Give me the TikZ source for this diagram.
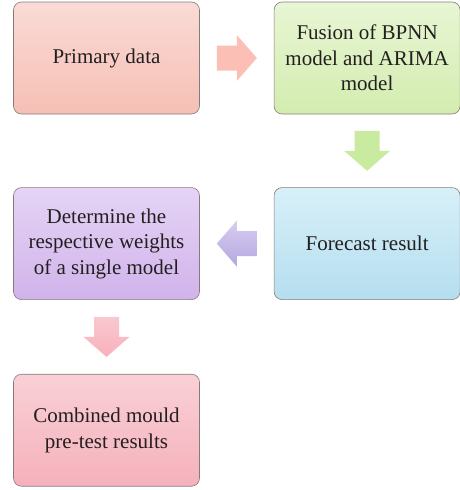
\documentclass[tikz,border=0pt]{standalone}
\usepackage{fontspec}
\setmainfont{Liberation Serif}
\usetikzlibrary{positioning,calc}
\definecolor{salmontop}{HTML}{FADBD5}
\definecolor{salmonbot}{HTML}{F5BFB5}
\definecolor{greentop}{HTML}{E8F6D4}
\definecolor{greenbot}{HTML}{D3ECAF}
\definecolor{bluetop}{HTML}{D7F0F8}
\definecolor{bluebot}{HTML}{B5DEF0}
\definecolor{violettop}{HTML}{E5D4F5}
\definecolor{violetbot}{HTML}{D1B3EB}
\definecolor{pinktop}{HTML}{F9D0D6}
\definecolor{pinkbot}{HTML}{F5B1BB}
\definecolor{edgegray}{HTML}{857C7A}
\definecolor{inkcol}{HTML}{231F20}
\definecolor{arrowone}{HTML}{FBBFB5}
\definecolor{arrowtwo}{HTML}{C9EB9F}
\definecolor{arrowthreetop}{HTML}{D8CCF0}
\definecolor{arrowthreebot}{HTML}{B3A8E0}
\definecolor{arrowfourtop}{HTML}{F9C8D0}
\definecolor{arrowfourbot}{HTML}{F9B0BC}
\tikzset{
  box/.style={draw=edgegray, line width=0.6pt, rounded corners=8pt,
    minimum width=186pt, minimum height=112pt,
    align=center, inner sep=0pt, text=inkcol,
    font=\fontsize{21}{25.5}\selectfont},
  pics/blockarr/.style={code={
    \path[pic actions] (-20,-12.5) -- (0,-12.5) -- (0,-23) -- (20,0)
      -- (0,23) -- (0,12.5) -- (-20,12.5) -- cycle;}}
}
\begin{document}
\begin{tikzpicture}[x=1pt,y=-1pt]
  \useasboundingbox (0,0) rectangle (460,490);
  \node[box, top color=salmontop, bottom color=salmonbot] (primary) at (106.5,58) {Primary data};
  \node[box, top color=greentop, bottom color=greenbot, right=74pt of primary] (fusion) {Fusion of BPNN\\model and ARIMA\\model};
  \node[box, top color=bluetop, bottom color=bluebot, below=73pt of fusion] (forecast) {Forecast result};
  \node[box, top color=violettop, bottom color=violetbot, left=74pt of forecast] (weights) {Determine the\\respective weights\\of a single model};
  \node[box, top color=pinktop, bottom color=pinkbot, below=74pt of weights] (combined) {Combined mould\\pre-test results};
  % block arrows between the steps
  \coordinate (m1) at ($(primary.east)!0.5!(fusion.west)$);
  \coordinate (m2) at ($(fusion.south)!0.5!(forecast.north)$);
  \coordinate (m3) at ($(forecast.west)!0.5!(weights.east)$);
  \coordinate (m4) at ($(weights.south)!0.5!(combined.north)$);
  \pic[fill=arrowone] at (m1) {blockarr};
  \pic[fill=arrowtwo, rotate=-90] at (m2) {blockarr};
  \pic[top color=arrowthreetop, bottom color=arrowthreebot, rotate=180] at (m3) {blockarr};
  \pic[top color=arrowfourtop, bottom color=arrowfourbot, rotate=-90] at (m4) {blockarr};
\end{tikzpicture}
\end{document}
